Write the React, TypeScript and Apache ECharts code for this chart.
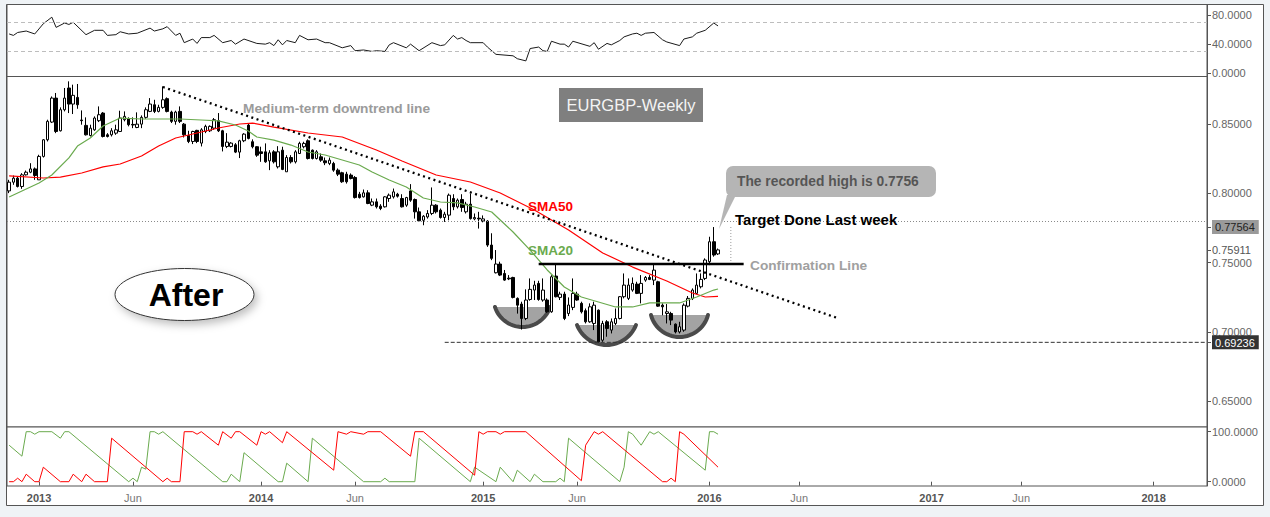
import React, { useEffect, useRef } from "react";
import * as echarts from "echarts";

// ---- categories: weekly bars (Mondays) ----
const FIRST_WEEK_UTC = Date.UTC(2012, 10, 12);
const WEEK_COUNT = 281;
const weekCats: string[] = Array.from({ length: WEEK_COUNT }, (_, i) =>
  new Date(FIRST_WEEK_UTC + i * 7 * 86400000).toISOString().slice(0, 10)
);
const tickMonths = [0, 5]; // January (year label) and June
const midYearLabel = "Jun";

// ---- price data: [open, close, low, high] per week ----
const ohlc: number[][] = [
  [0.8017, 0.808, 0.8001, 0.8097], [0.808, 0.8109, 0.8061, 0.8128], [0.8109, 0.8049, 0.8042, 0.8121],
  [0.8049, 0.8133, 0.8032, 0.8145], [0.8133, 0.8152, 0.8128, 0.8164], [0.8152, 0.8176, 0.8145, 0.8217],
  [0.8176, 0.8128, 0.8097, 0.8186], [0.8097, 0.8266, 0.8097, 0.8278], [0.8266, 0.8386, 0.8258, 0.8391],
  [0.8386, 0.8519, 0.8374, 0.8531], [0.8514, 0.8687, 0.8507, 0.8699], [0.8687, 0.8446, 0.8434, 0.8724],
  [0.8451, 0.8603, 0.8446, 0.862], [0.8603, 0.8687, 0.8591, 0.876], [0.876, 0.8644, 0.8579, 0.8808],
  [0.8644, 0.8707, 0.8572, 0.8784], [0.8692, 0.8639, 0.861, 0.8789], [0.8529, 0.8524, 0.8495, 0.8598],
  [0.849, 0.8422, 0.8417, 0.8548], [0.8417, 0.847, 0.841, 0.8495], [0.8458, 0.8543, 0.8451, 0.8555],
  [0.8524, 0.8567, 0.8514, 0.8627], [0.8579, 0.841, 0.8403, 0.8586], [0.8422, 0.841, 0.8403, 0.8434],
  [0.8422, 0.8451, 0.841, 0.847], [0.8434, 0.8458, 0.8422, 0.8495], [0.8446, 0.8543, 0.8442, 0.8596],
  [0.8531, 0.8555, 0.8519, 0.8591], [0.8538, 0.8495, 0.8483, 0.8548], [0.8497, 0.8493, 0.847, 0.8548],
  [0.8475, 0.8499, 0.847, 0.8584], [0.8499, 0.8548, 0.847, 0.8562], [0.8548, 0.8603, 0.8538, 0.862],
  [0.8591, 0.8644, 0.8586, 0.8687], [0.8639, 0.8591, 0.8579, 0.8675], [0.8591, 0.862, 0.8584, 0.8639],
  [0.862, 0.8675, 0.861, 0.8772], [0.8683, 0.8591, 0.8584, 0.8692], [0.8586, 0.8519, 0.8507, 0.8596],
  [0.8519, 0.8586, 0.8495, 0.8596], [0.8591, 0.8519, 0.8507, 0.8627], [0.8499, 0.8422, 0.8403, 0.8507],
  [0.8417, 0.8374, 0.8362, 0.8451], [0.8374, 0.8446, 0.8355, 0.8451], [0.8454, 0.8374, 0.8362, 0.8458],
  [0.8362, 0.8458, 0.8338, 0.847], [0.8446, 0.8483, 0.8434, 0.8495], [0.8451, 0.8483, 0.8442, 0.849],
  [0.847, 0.8531, 0.8458, 0.8543], [0.8524, 0.8451, 0.8442, 0.8579], [0.8451, 0.8338, 0.8302, 0.8458],
  [0.8338, 0.8369, 0.8326, 0.8434], [0.8338, 0.8362, 0.8331, 0.8369], [0.835, 0.8297, 0.829, 0.8362],
  [0.8297, 0.8379, 0.8254, 0.8386], [0.8379, 0.8427, 0.8369, 0.8434], [0.8492, 0.8396, 0.8389, 0.8504],
  [0.8372, 0.8336, 0.8324, 0.8389], [0.8336, 0.8275, 0.8263, 0.834], [0.8299, 0.8287, 0.8227, 0.8336],
  [0.8299, 0.8227, 0.822, 0.836], [0.8234, 0.8292, 0.8167, 0.8311], [0.8299, 0.8227, 0.8215, 0.8311],
  [0.8191, 0.8299, 0.8179, 0.834], [0.8311, 0.8172, 0.8167, 0.8336], [0.8155, 0.8258, 0.8155, 0.8275],
  [0.8258, 0.8227, 0.8215, 0.8275], [0.8227, 0.8299, 0.8215, 0.8311], [0.8287, 0.836, 0.8283, 0.8372],
  [0.8336, 0.836, 0.8324, 0.8372], [0.8379, 0.8251, 0.8244, 0.8389], [0.8311, 0.8251, 0.8244, 0.8316],
  [0.8251, 0.8299, 0.8244, 0.8311], [0.8263, 0.8239, 0.8227, 0.8287], [0.8234, 0.822, 0.8203, 0.8258],
  [0.8215, 0.8239, 0.8203, 0.8258], [0.8215, 0.8167, 0.8155, 0.8227], [0.8167, 0.8138, 0.8124, 0.8179],
  [0.8148, 0.8083, 0.8075, 0.8155], [0.8138, 0.8083, 0.807, 0.8155], [0.8131, 0.8107, 0.81, 0.8143],
  [0.8114, 0.7969, 0.7962, 0.8124], [0.7993, 0.7969, 0.7962, 0.801], [0.7974, 0.8003, 0.7969, 0.8027],
  [0.8003, 0.7926, 0.7921, 0.8022], [0.7914, 0.7938, 0.7907, 0.7962], [0.7938, 0.7902, 0.789, 0.7962],
  [0.7907, 0.789, 0.7878, 0.7921], [0.7902, 0.7974, 0.7897, 0.7979], [0.7962, 0.7986, 0.7938, 0.7998],
  [0.7974, 0.801, 0.7962, 0.8034], [0.7993, 0.7979, 0.7969, 0.8003], [0.7962, 0.7902, 0.7897, 0.7993],
  [0.7914, 0.7969, 0.7902, 0.7974], [0.8017, 0.795, 0.7938, 0.8066], [0.7955, 0.7866, 0.7817, 0.7962],
  [0.7866, 0.7801, 0.7793, 0.7897], [0.7805, 0.7834, 0.7769, 0.7842], [0.7829, 0.7854, 0.7817, 0.7878],
  [0.7854, 0.7914, 0.7842, 0.8042], [0.7914, 0.7866, 0.7854, 0.7921], [0.7878, 0.7825, 0.7817, 0.789],
  [0.7825, 0.7849, 0.7793, 0.7866], [0.7842, 0.7986, 0.7805, 0.7998], [0.7962, 0.7902, 0.7878, 0.7993],
  [0.7902, 0.795, 0.789, 0.7962], [0.7955, 0.7897, 0.7866, 0.7993], [0.7866, 0.7921, 0.7854, 0.7938],
  [0.7921, 0.7817, 0.781, 0.7998], [0.7815, 0.7825, 0.7805, 0.7854], [0.782, 0.7815, 0.7745, 0.7866],
  [0.78, 0.7815, 0.779, 0.784], [0.7799, 0.7626, 0.7613, 0.7806], [0.7626, 0.753, 0.7517, 0.7711],
  [0.7426, 0.7489, 0.7421, 0.759], [0.7489, 0.7409, 0.7402, 0.7506], [0.7421, 0.7373, 0.7368, 0.7446],
  [0.7387, 0.7382, 0.7373, 0.7409], [0.7392, 0.7248, 0.7241, 0.7397], [0.7241, 0.7192, 0.7131, 0.7248],
  [0.72, 0.7096, 0.7016, 0.7217], [0.7096, 0.7229, 0.7084, 0.7306], [0.7233, 0.7306, 0.7224, 0.7385],
  [0.7301, 0.7337, 0.7229, 0.7368], [0.7349, 0.7233, 0.7224, 0.7368], [0.7229, 0.7301, 0.7217, 0.7385],
  [0.7229, 0.7144, 0.7137, 0.7241], [0.7144, 0.7397, 0.7137, 0.7409], [0.7402, 0.7253, 0.7248, 0.7482],
  [0.7248, 0.7272, 0.7229, 0.7289], [0.7272, 0.7096, 0.7084, 0.7289], [0.7132, 0.7193, 0.7113, 0.7248],
  [0.7176, 0.7277, 0.7156, 0.7385], [0.7272, 0.7229, 0.7224, 0.7289], [0.7205, 0.7144, 0.7132, 0.7217],
  [0.7152, 0.7072, 0.706, 0.7168], [0.7072, 0.718, 0.7065, 0.7205], [0.706, 0.7192, 0.7012, 0.7217],
  [0.7156, 0.6927, 0.69236, 0.7161], [0.6939, 0.706, 0.6927, 0.7079], [0.7072, 0.7024, 0.6964, 0.7084],
  [0.7012, 0.7072, 0.6988, 0.7096], [0.706, 0.7096, 0.7048, 0.7168], [0.7096, 0.7253, 0.7089, 0.7258],
  [0.7253, 0.7337, 0.7241, 0.7421], [0.7241, 0.7337, 0.7229, 0.7385], [0.7301, 0.7349, 0.7289, 0.7392],
  [0.7344, 0.7277, 0.7272, 0.7361], [0.7277, 0.7349, 0.7205, 0.7409], [0.7373, 0.7392, 0.7361, 0.7402],
  [0.7392, 0.7378, 0.7373, 0.7409], [0.7373, 0.7445, 0.7337, 0.7493], [0.7361, 0.7185, 0.718, 0.7368],
  [0.7192, 0.718, 0.7119, 0.7205], [0.7132, 0.7144, 0.706, 0.72], [0.7132, 0.7084, 0.7048, 0.7144],
  [0.7055, 0.6999, 0.6988, 0.706], [0.6999, 0.7036, 0.6988, 0.7072], [0.7012, 0.7192, 0.7, 0.7205],
  [0.7185, 0.7241, 0.7176, 0.7258], [0.7241, 0.7301, 0.7229, 0.7313], [0.7277, 0.7337, 0.7272, 0.7421],
  [0.7325, 0.7378, 0.7313, 0.7421], [0.7385, 0.7518, 0.7373, 0.753], [0.7506, 0.765, 0.7481, 0.7686],
  [0.765, 0.7554, 0.7542, 0.7756], [0.7562, 0.7591, 0.7554, 0.7601],
];

// ---- moving averages: [week index, value] ----
const sma50: number[][] = [
  [0, 0.8125], [8, 0.811], [12, 0.8117], [17, 0.8146], [22, 0.819], [26, 0.8211], [31, 0.8269], [35, 0.8341],
  [39, 0.8399], [45, 0.8442], [49, 0.8471], [54, 0.85], [57, 0.8507], [62, 0.8478], [70, 0.8435], [78, 0.8406],
  [86, 0.8312], [92, 0.8233], [100, 0.8132], [108, 0.8081], [115, 0.8002], [123, 0.7879], [131, 0.7735],
  [139, 0.7569], [146, 0.7467], [154, 0.7366], [160, 0.728], [163, 0.7251], [166, 0.7255],
];
const sma20: number[][] = [
  [0, 0.7973], [7, 0.8074], [10, 0.8132], [14, 0.8255], [16, 0.8341], [19, 0.8399], [22, 0.8486], [26, 0.8543],
  [31, 0.8536], [36, 0.8536], [40, 0.8536], [45, 0.8529], [49, 0.8522], [53, 0.8493], [56, 0.8449], [58, 0.8406],
  [62, 0.8384], [66, 0.8348], [70, 0.8298], [74, 0.8276], [78, 0.824], [82, 0.8204], [85, 0.8153], [89, 0.8096],
  [93, 0.8045], [97, 0.7966], [101, 0.7937], [105, 0.793], [109, 0.7901], [113, 0.7865], [115, 0.7807],
  [118, 0.772], [122, 0.759], [126, 0.7446], [130, 0.7323], [134, 0.7251], [138, 0.7215], [142, 0.7179],
  [146, 0.7179], [150, 0.7208], [153, 0.7208], [157, 0.7208], [161, 0.7251], [165, 0.7301], [166, 0.7309],
];

// ---- oscillators: [week index, value] ----
const rsi: number[][] = [
  [0, 54], [1, 52], [2, 56], [4, 58], [6, 54], [8, 68], [10, 77], [11, 63], [13, 69], [14, 67], [15, 70], [18, 53],
  [20, 59], [22, 59], [23, 52], [25, 53], [26, 57], [28, 54], [30, 55], [33, 62], [34, 58], [36, 61], [37, 64],
  [39, 52], [40, 55], [41, 42], [43, 47], [44, 41], [45, 49], [47, 49], [48, 52], [50, 42], [52, 45], [53, 40],
  [55, 47], [58, 41], [60, 40], [61, 42], [62, 38], [63, 46], [64, 39], [65, 45], [67, 42], [68, 52], [70, 46],
  [72, 47], [74, 42], [75, 42], [78, 35], [80, 38], [81, 31], [83, 32], [85, 30], [86, 31], [88, 30], [89, 39],
  [90, 42], [93, 35], [94, 40], [96, 31], [99, 42], [101, 38], [102, 39], [104, 52], [105, 47], [106, 49],
  [107, 45], [108, 42], [111, 42], [112, 36], [114, 26], [118, 24], [119, 20], [121, 17], [122, 34], [124, 36],
  [125, 31], [126, 30], [127, 44], [129, 40], [130, 40], [131, 36], [132, 44], [136, 37], [137, 42], [138, 33],
  [140, 41], [141, 39], [143, 45], [144, 50], [146, 54], [147, 55], [148, 52], [149, 55], [151, 56], [153, 46],
  [154, 43], [157, 38], [158, 47], [160, 50], [161, 55], [163, 59], [165, 69], [166, 65],
];
const aroonUp: number[][] = [
  [0, 73], [3, 51], [4, 100], [5, 100], [6, 95], [7, 100], [10, 100], [12, 87], [13, 100], [14, 100], [28, 0],
  [29, 7], [30, 0], [31, 29], [32, 25], [33, 100], [34, 100], [35, 95], [36, 100], [50, 0], [51, 0], [52, 15],
  [54, 0], [55, 58], [63, 0], [64, 0], [65, 37], [70, 0], [71, 87], [83, 0], [87, 0], [88, 7], [89, 0], [95, 0],
  [96, 87], [108, 0], [109, 29], [114, 0], [115, 29], [118, 0], [119, 23], [122, 0], [123, 15], [125, 0],
  [128, 0], [129, 7], [130, 0], [131, 87], [143, 0], [144, 29], [145, 100], [146, 95], [148, 73], [150, 100],
  [151, 95], [152, 100], [163, 23], [164, 100], [165, 100], [166, 95],
];
const aroonDown: number[][] = [
  [0, 0], [1, 0], [2, 7], [3, 0], [4, 15], [6, 0], [7, 0], [8, 29], [12, 0], [14, 0], [15, 15], [17, 0], [18, 15],
  [20, 0], [23, 0], [24, 87], [36, 0], [37, 7], [38, 0], [40, 0], [41, 100], [43, 100], [44, 95], [45, 100],
  [49, 73], [50, 100], [52, 87], [53, 100], [54, 100], [58, 73], [59, 100], [60, 95], [61, 100], [64, 78],
  [65, 100], [76, 23], [77, 100], [79, 95], [80, 100], [83, 95], [84, 100], [87, 100], [94, 51], [95, 100],
  [97, 100], [109, 13], [110, 100], [111, 95], [112, 100], [114, 100], [115, 95], [116, 100], [121, 100],
  [134, 2], [135, 73], [137, 100], [138, 95], [139, 100], [153, 0], [154, 0], [155, 7], [156, 0], [157, 100],
  [158, 95], [166, 29],
];

// ---- drawn lines: [week index, price] ----
const downtrendLine: number[][] = [[36, 0.8767], [194, 0.7099]];
const confirmationLine: number[][] = [[124, 0.7489], [172, 0.7489]];
const supportLine: number[][] = [[102, 0.69236], [280, 0.69236]];
const highMarker: number[][] = [[169, 0.77564], [169, 0.7475]];

// ---- axis ticks ----
const rsiTicks = [0, 40, 80];
const rsiLevels = [70, 30];
const aroonTicks = [0, 100];
const priceTicks = [0.65, 0.7, 0.75, 0.8, 0.85];
const recordedHigh = 0.77564;
const lastPrice = 0.75911;
const supportLow = 0.69236;

const FONT = '"Liberation Sans", Arial, sans-serif';

export default function App() {
  const ref = useRef<HTMLDivElement>(null);
  useEffect(() => {
    const chart = echarts.init(ref.current!, null, { renderer: "svg" });
    const cat = (i: number) => weekCats[i];
    const pairs = (arr: number[][]) => arr.map(([i, v]) => [cat(i), v]);

    const tickLabels = new Map<string, string>();
    weekCats.forEach((c) => {
      const t = Date.parse(c + "T00:00:00Z");
      for (let k = -3; k <= 3; k++) {
        const e = new Date(t + k * 86400000);
        if (e.getUTCDate() === 1 && tickMonths.includes(e.getUTCMonth())) {
          tickLabels.set(c, e.getUTCMonth() === 0 ? `{y|${e.getUTCFullYear()}}` : `{m|${midYearLabel}}`);
        }
      }
    });
    const showTick = (_i: number, v: string) => tickLabels.has(v);

    const hiddenX = (gridIndex: number) => ({
      type: "category",
      gridIndex,
      data: weekCats,
      boundaryGap: true,
      axisLine: { show: false },
      axisTick: { show: false },
      axisLabel: { show: false },
      splitLine: { show: false },
    });

    const rightY = (gridIndex: number, min: number, max: number, ticks: number[], fmt: (v: number) => string, rich?: any) => ({
      type: "value",
      gridIndex,
      position: "right",
      min,
      max,
      splitLine: { show: false },
      axisLine: { show: true, lineStyle: { color: "#555", width: 1 } },
      axisTick: { show: true, length: 4, lineStyle: { color: "#555" }, customValues: ticks },
      axisLabel: {
        show: true,
        customValues: ticks,
        formatter: fmt,
        color: "#666",
        fontSize: 11,
        fontFamily: FONT,
        margin: 5,
        rich,
      },
    });

    const near = (a: number, b: number) => Math.abs(a - b) < 1e-6;
    const priceFmt = (v: number) => {
      if (near(v, recordedHigh)) return `{hi|${v.toFixed(5)}}`;
      if (near(v, supportLow)) return `{lo|${v.toFixed(5)}}`;
      if (near(v, lastPrice)) return `{last|${v.toFixed(5)}}`;
      return v.toFixed(5);
    };

    const bowl = (x1: number, x2: number, top: number, bottom: number) => {
      const c = (x2 - x1) / 2;
      const s = bottom - top;
      const r = (c * c + s * s) / (2 * s);
      const cx = (x1 + x2) / 2;
      const cy = bottom - r;
      const th = Math.asin(c / r);
      const pts: number[][] = [];
      for (let k = 0; k <= 30; k++) {
        const a = Math.PI / 2 + th - (2 * th * k) / 30;
        pts.push([cx + r * Math.cos(a), cy + r * Math.sin(a)]);
      }
      return [
        { type: "polygon", shape: { points: pts }, style: { fill: "#a3a3a3" }, z: 1, silent: true },
        {
          type: "polyline",
          shape: { points: pts },
          style: { stroke: "#4a4a4a", lineWidth: 4, fill: null, lineCap: "round" },
          z: 1,
          silent: true,
        },
      ];
    };

    const label = (x: number, y: number, text: string, fill: string, fontSize: number, fontWeight = "bold", align = "left") => ({
      type: "text",
      x,
      y,
      z: 20,
      silent: true,
      style: {
        text,
        fill,
        fontSize,
        fontWeight,
        fontFamily: FONT,
        align,
        verticalAlign: "middle",
        textAlign: align,
        textVerticalAlign: "middle",
      },
    });

    const option: any = {
      animation: false,
      backgroundColor: "#eff3f6",
      textStyle: { fontFamily: FONT },
      grid: [
        { left: 7, right: 63, top: 4.5, height: 72, show: true, borderColor: "#555", borderWidth: 1, backgroundColor: "#fff" },
        { left: 7, right: 63, top: 76.5, height: 350.5, show: true, borderColor: "#555", borderWidth: 1, backgroundColor: "#fff" },
        { left: 7, right: 63, top: 427, height: 59, show: true, borderColor: "#555", borderWidth: 1, backgroundColor: "#fff" },
      ],
      xAxis: [
        hiddenX(0),
        hiddenX(1),
        {
          ...hiddenX(2),
          axisTick: { show: true, interval: showTick, alignWithLabel: true, length: 4, lineStyle: { color: "#555" } },
          axisLabel: {
            show: true,
            interval: showTick,
            formatter: (v: string) => tickLabels.get(v) || "",
            margin: 6,
            rich: {
              y: { fontWeight: "bold", color: "#555", fontSize: 11, fontFamily: FONT },
              m: { color: "#777", fontSize: 11, fontFamily: FONT },
            },
          },
        },
      ],
      yAxis: [
        rightY(0, -4.4, 94.4, rsiTicks, (v: number) => v.toFixed(4)),
        rightY(1, 0.63123, 0.8843, [...priceTicks, lastPrice, recordedHigh, supportLow], priceFmt, {
          hi: { backgroundColor: "#9a9a9a", color: "#222", padding: [2, 4, 1, 3], fontSize: 11, fontFamily: FONT },
          lo: { backgroundColor: "#333", color: "#fff", padding: [2, 4, 1, 3], fontSize: 11, fontFamily: FONT },
          last: { color: "#555", fontSize: 11, fontFamily: FONT },
        }),
        rightY(2, -8.6, 109.4, aroonTicks, (v: number) => v.toFixed(4)),
      ],
      series: [
        {
          name: "RSI",
          type: "line",
          xAxisIndex: 0,
          yAxisIndex: 0,
          data: pairs(rsi),
          showSymbol: false,
          silent: true,
          lineStyle: { color: "#1a1a1a", width: 1 },
          markLine: {
            silent: true,
            symbol: "none",
            label: { show: false },
            lineStyle: { color: "#bdbdbd", type: [4, 3], width: 1 },
            data: rsiLevels.map((v) => ({ yAxis: v })),
          },
        },
        {
          name: "EURGBP",
          type: "candlestick",
          xAxisIndex: 1,
          yAxisIndex: 1,
          data: ohlc,
          barWidth: 3,
          silent: true,
          itemStyle: { color: "#fff", color0: "#000", borderColor: "#000", borderColor0: "#000", borderWidth: 1 },
          markLine: {
            silent: true,
            symbol: "none",
            label: { show: false },
            lineStyle: { color: "#8a8a8a", type: [1, 2], width: 1 },
            data: [{ yAxis: recordedHigh }],
          },
        },
        {
          name: "SMA50",
          type: "line",
          xAxisIndex: 1,
          yAxisIndex: 1,
          data: pairs(sma50),
          showSymbol: false,
          silent: true,
          lineStyle: { color: "#ff0000", width: 1.2 },
        },
        {
          name: "SMA20",
          type: "line",
          xAxisIndex: 1,
          yAxisIndex: 1,
          data: pairs(sma20),
          showSymbol: false,
          silent: true,
          lineStyle: { color: "#6aaa4e", width: 1.2 },
        },
        {
          name: "Downtrend",
          type: "line",
          xAxisIndex: 1,
          yAxisIndex: 1,
          data: pairs(downtrendLine),
          showSymbol: false,
          silent: true,
          z: 5,
          lineStyle: { color: "#000", width: 2.3, type: [2, 3.5] },
        },
        {
          name: "Confirmation",
          type: "line",
          xAxisIndex: 1,
          yAxisIndex: 1,
          data: pairs(confirmationLine),
          showSymbol: false,
          silent: true,
          z: 5,
          lineStyle: { color: "#000", width: 2.5 },
        },
        {
          name: "Support",
          type: "line",
          xAxisIndex: 1,
          yAxisIndex: 1,
          data: pairs(supportLine),
          showSymbol: false,
          silent: true,
          lineStyle: { color: "#333", width: 1, type: [4, 2] },
        },
        {
          name: "HighMarker",
          type: "line",
          xAxisIndex: 1,
          yAxisIndex: 1,
          data: pairs(highMarker),
          showSymbol: false,
          silent: true,
          lineStyle: { color: "#999", width: 1, type: [1, 2] },
        },
        {
          name: "AroonUp",
          type: "line",
          xAxisIndex: 2,
          yAxisIndex: 2,
          data: pairs(aroonUp),
          showSymbol: false,
          silent: true,
          lineStyle: { color: "#6aaa4e", width: 1 },
        },
        {
          name: "AroonDown",
          type: "line",
          xAxisIndex: 2,
          yAxisIndex: 2,
          data: pairs(aroonDown),
          showSymbol: false,
          silent: true,
          lineStyle: { color: "#ff0000", width: 1 },
        },
      ],
      graphic: [
        {
          type: "rect",
          z: -10,
          silent: true,
          shape: { x: 6.5, y: 4.5, width: 1257, height: 501 },
          style: { fill: "#fff", stroke: "#555", lineWidth: 1 },
        },
        ...bowl(495, 550, 307, 327),
        ...bowl(577, 636, 325, 345),
        ...bowl(651, 708, 315, 337),
        label(243, 108, "Medium-term downtrend line", "#9b9b9b", 13.7),
        {
          type: "rect",
          z: 19,
          silent: true,
          shape: { x: 559, y: 88, width: 144, height: 34 },
          style: { fill: "#7f7f7f" },
        },
        label(631, 105, "EURGBP-Weekly", "#f4f4f4", 16.5, "normal", "center"),
        label(528, 206, "SMA50", "#ff0000", 13.5),
        label(528, 250, "SMA20", "#6aaa4e", 13.5),
        {
          type: "polygon",
          z: 19,
          silent: true,
          shape: { points: [[727, 195], [736, 195], [719, 229]] },
          style: { fill: "#b5b5b5" },
        },
        {
          type: "rect",
          z: 19,
          silent: true,
          shape: { x: 726, y: 166, width: 210, height: 31, r: 7 },
          style: { fill: "#b5b5b5" },
        },
        label(737, 181, "The recorded high is 0.7756", "#555", 13.8),
        label(735, 219, "Target Done Last week", "#000", 15),
        label(750, 265, "Confirmation Line", "#a0a0a0", 13.7),
        {
          type: "ellipse",
          z: 19,
          silent: true,
          shape: { cx: 184.5, cy: 294.5, rx: 69.5, ry: 26 },
          style: {
            fill: "#fff",
            stroke: "#333",
            lineWidth: 1,
            shadowBlur: 8,
            shadowColor: "rgba(0,0,0,0.25)",
            shadowOffsetX: 3,
            shadowOffsetY: 4,
          },
        },
        label(186, 295, "After", "#000", 32, "bold", "center"),
      ],
    };

    chart.setOption(option);
    return () => chart.dispose();
  }, []);

  return <div ref={ref} style={{ position: "absolute", left: 0, top: 0, width: 1270, height: 517 }} />;
}
